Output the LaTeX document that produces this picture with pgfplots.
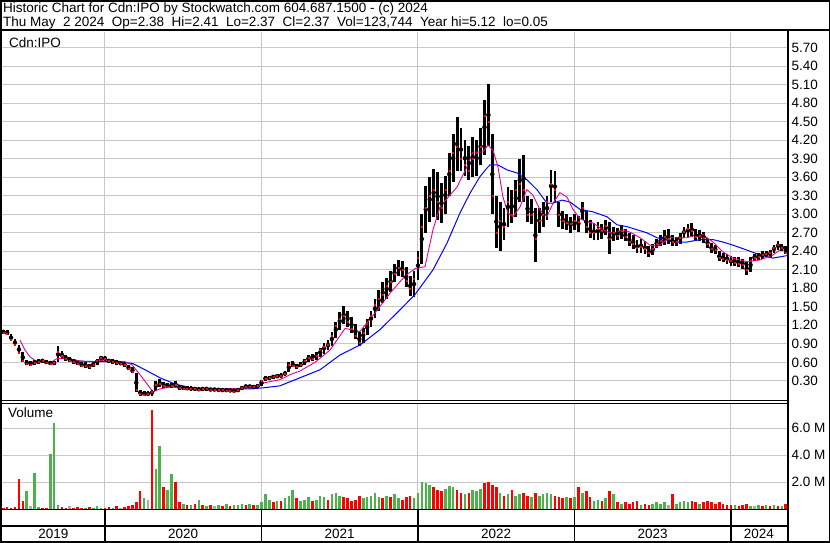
\documentclass[border=0pt]{standalone}
\usepackage{fontspec}
\setmainfont{Liberation Sans}
\usepackage{pgfplots}
\pgfplotsset{compat=1.18}
\usepackage{pgfplotstable}

\definecolor{gridgray}{RGB}{200,200,200}
\definecolor{vgreen}{RGB}{76,178,76}
\definecolor{vgray}{RGB}{170,170,170}
\newcommand\sw{\fontsize{13.5}{15}\selectfont}

% weekly-ish bars: x(year) high low close volume(M) colour(1 up, 2 down, 0 flat)
\pgfplotstableread{
x hi lo cl vol c
2019.350 1.13 1.06 1.08 0.10 2
2019.375 1.12 1.04 1.06 0.15 2
2019.400 1.06 0.94 0.96 0.10 2
2019.425 0.98 0.86 0.88 0.12 2
2019.450 0.88 0.74 0.76 2.20 2
2019.475 0.76 0.60 0.62 0.60 2
2019.500 0.64 0.55 0.58 1.30 1
2019.525 0.62 0.54 0.57 0.20 0
2019.550 0.64 0.56 0.60 2.70 1
2019.575 0.65 0.58 0.61 0.15 1
2019.600 0.66 0.59 0.62 0.10 2
2019.625 0.64 0.57 0.60 0.10 2
2019.650 0.63 0.55 0.58 4.10 1
2019.675 0.62 0.56 0.60 6.40 1
2019.700 0.86 0.60 0.78 0.30 1
2019.725 0.78 0.66 0.70 0.15 2
2019.750 0.72 0.62 0.66 0.10 2
2019.775 0.68 0.60 0.63 0.20 0
2019.800 0.66 0.58 0.61 0.10 2
2019.825 0.63 0.55 0.58 0.15 2
2019.850 0.61 0.52 0.55 0.10 2
2019.875 0.60 0.51 0.54 0.10 1
2019.900 0.58 0.50 0.53 0.15 2
2019.925 0.60 0.52 0.56 0.10 1
2019.950 0.66 0.56 0.62 0.20 1
2019.975 0.71 0.63 0.67 0.10 1
2020.000 0.70 0.63 0.66 0.10 2
2020.025 0.66 0.59 0.62 0.12 2
2020.050 0.65 0.58 0.61 0.10 1
2020.075 0.64 0.56 0.59 0.20 2
2020.100 0.62 0.55 0.58 0.10 0
2020.125 0.60 0.53 0.56 0.15 2
2020.150 0.56 0.47 0.50 0.20 2
2020.175 0.52 0.42 0.45 0.30 2
2020.200 0.42 0.12 0.16 0.50 2
2020.225 0.16 0.06 0.09 1.30 2
2020.250 0.14 0.05 0.08 0.80 1
2020.275 0.13 0.05 0.09 0.70 0
2020.300 0.16 0.06 0.12 7.30 2
2020.325 0.30 0.14 0.24 3.00 1
2020.350 0.33 0.20 0.25 4.70 1
2020.375 0.28 0.19 0.22 1.60 2
2020.400 0.26 0.18 0.21 1.40 1
2020.425 0.26 0.18 0.22 2.60 1
2020.450 0.29 0.20 0.24 2.00 2
2020.475 0.24 0.16 0.19 0.50 2
2020.500 0.22 0.15 0.18 0.40 1
2020.525 0.21 0.15 0.18 0.30 2
2020.550 0.21 0.14 0.17 0.30 1
2020.575 0.20 0.14 0.17 0.40 2
2020.600 0.19 0.14 0.16 0.70 1
2020.625 0.20 0.14 0.17 0.30 2
2020.650 0.20 0.14 0.17 0.20 1
2020.675 0.19 0.13 0.16 0.30 2
2020.700 0.19 0.13 0.16 0.20 0
2020.725 0.18 0.13 0.15 0.30 1
2020.750 0.18 0.12 0.15 0.20 2
2020.775 0.18 0.12 0.14 0.40 1
2020.800 0.17 0.12 0.14 0.20 2
2020.825 0.17 0.11 0.13 0.30 1
2020.850 0.18 0.12 0.15 0.30 1
2020.875 0.22 0.15 0.19 0.40 1
2020.900 0.24 0.18 0.21 0.30 2
2020.925 0.24 0.18 0.21 0.40 1
2020.950 0.23 0.17 0.20 0.30 2
2020.975 0.25 0.18 0.22 0.30 1
2021.000 0.32 0.22 0.30 0.50 1
2021.025 0.38 0.30 0.34 1.10 1
2021.050 0.38 0.31 0.35 0.70 1
2021.075 0.40 0.33 0.37 0.50 2
2021.100 0.41 0.34 0.38 0.60 1
2021.125 0.42 0.35 0.39 0.60 2
2021.150 0.46 0.38 0.42 0.80 1
2021.175 0.60 0.44 0.56 1.00 1
2021.200 0.62 0.52 0.55 1.40 1
2021.225 0.58 0.50 0.53 0.80 2
2021.250 0.60 0.52 0.56 0.60 1
2021.275 0.66 0.55 0.62 0.70 1
2021.300 0.72 0.60 0.68 0.90 1
2021.325 0.74 0.62 0.66 0.60 2
2021.350 0.76 0.64 0.70 0.70 1
2021.375 0.84 0.68 0.80 1.00 1
2021.400 0.92 0.74 0.86 0.90 1
2021.425 0.96 0.80 0.88 0.70 2
2021.450 1.10 0.86 1.04 1.10 1
2021.475 1.26 1.00 1.20 1.20 1
2021.500 1.42 1.12 1.30 1.00 1
2021.525 1.52 1.22 1.36 0.90 2
2021.550 1.44 1.18 1.26 0.80 2
2021.575 1.34 1.08 1.14 0.60 2
2021.600 1.22 0.98 1.04 0.70 2
2021.625 1.10 0.86 0.92 1.00 2
2021.650 1.16 0.92 1.08 0.80 1
2021.675 1.30 1.04 1.22 0.90 1
2021.700 1.44 1.18 1.36 1.00 1
2021.725 1.62 1.32 1.54 1.20 1
2021.750 1.78 1.44 1.64 0.90 1
2021.775 1.90 1.56 1.70 0.80 2
2021.800 1.96 1.62 1.84 1.00 1
2021.825 2.08 1.74 1.90 0.90 2
2021.850 2.20 1.90 2.04 1.10 1
2021.875 2.26 2.00 2.14 0.80 1
2021.900 2.24 1.98 2.10 0.70 2
2021.925 2.14 1.82 1.92 0.90 2
2021.950 2.00 1.68 1.80 1.00 2
2021.975 2.08 1.66 1.96 0.80 1
2022.000 2.40 1.94 2.30 1.20 1
2022.025 3.00 2.20 2.80 2.00 1
2022.050 3.46 2.70 3.10 1.90 1
2022.075 3.60 2.88 3.30 1.80 1
2022.100 3.74 2.96 3.40 1.60 2
2022.125 3.68 2.90 3.20 1.40 2
2022.150 3.50 2.86 3.10 1.30 2
2022.175 3.62 3.00 3.40 1.50 1
2022.200 4.00 3.30 3.70 1.70 1
2022.225 4.30 3.52 4.00 1.60 1
2022.250 4.58 3.70 4.10 1.40 2
2022.275 4.40 3.70 3.90 1.20 2
2022.300 4.20 3.62 3.80 1.10 1
2022.325 4.10 3.56 3.70 1.20 2
2022.350 4.26 3.60 3.90 1.40 1
2022.375 4.20 3.62 4.00 1.30 1
2022.400 4.40 3.80 4.10 1.50 1
2022.425 4.86 3.96 4.60 1.90 2
2022.450 5.12 4.10 4.50 2.00 2
2022.475 4.30 3.00 3.30 1.80 2
2022.500 3.30 2.46 2.70 1.60 2
2022.525 3.20 2.40 2.90 1.20 1
2022.550 3.10 2.58 2.80 1.00 2
2022.575 3.44 2.80 3.20 1.10 1
2022.600 3.40 2.86 3.00 1.40 2
2022.625 3.56 2.96 3.40 1.00 1
2022.650 3.90 3.20 3.50 1.10 1
2022.675 3.96 3.20 3.40 1.20 2
2022.700 3.30 2.88 3.00 1.00 2
2022.725 3.24 2.84 3.00 0.90 1
2022.750 3.10 2.22 2.60 1.20 2
2022.775 3.10 2.70 2.90 1.00 1
2022.800 3.20 2.80 3.00 1.10 1
2022.825 3.30 2.90 3.20 1.20 1
2022.850 3.72 3.20 3.50 1.10 1
2022.875 3.70 3.20 3.40 1.00 2
2022.900 3.20 2.80 3.00 0.90 2
2022.925 3.06 2.76 2.90 0.80 2
2022.950 3.00 2.74 2.86 0.90 1
2022.975 2.96 2.70 2.84 0.80 2
2023.000 3.00 2.74 2.90 0.90 1
2023.025 2.98 2.72 2.88 1.60 2
2023.050 3.20 2.90 3.10 1.20 1
2023.075 3.06 2.70 2.80 1.30 2
2023.100 2.90 2.62 2.70 0.90 2
2023.125 2.86 2.58 2.70 0.60 1
2023.150 2.88 2.58 2.76 0.70 1
2023.175 2.84 2.60 2.74 0.60 2
2023.200 2.90 2.66 2.82 0.80 1
2023.225 2.88 2.36 2.60 1.30 2
2023.250 2.80 2.56 2.70 1.10 1
2023.275 2.78 2.58 2.66 0.50 2
2023.300 2.82 2.60 2.74 0.40 1
2023.325 2.76 2.56 2.64 0.50 2
2023.350 2.70 2.48 2.56 0.40 2
2023.375 2.66 2.44 2.52 0.50 2
2023.400 2.58 2.38 2.46 0.60 2
2023.425 2.60 2.38 2.48 0.30 1
2023.450 2.56 2.36 2.44 0.40 2
2023.475 2.48 2.30 2.38 0.30 2
2023.500 2.52 2.34 2.44 0.40 1
2023.525 2.60 2.46 2.52 0.50 1
2023.550 2.66 2.48 2.58 0.40 1
2023.575 2.74 2.50 2.64 0.50 1
2023.600 2.76 2.52 2.60 0.30 0
2023.625 2.66 2.48 2.56 1.10 2
2023.650 2.64 2.48 2.56 0.40 1
2023.675 2.70 2.52 2.62 0.50 1
2023.700 2.80 2.62 2.72 0.60 1
2023.725 2.84 2.64 2.76 0.50 1
2023.750 2.86 2.64 2.74 0.60 2
2023.775 2.76 2.56 2.64 0.50 2
2023.800 2.74 2.56 2.66 0.40 1
2023.825 2.72 2.54 2.62 0.50 2
2023.850 2.62 2.46 2.52 0.60 2
2023.875 2.54 2.38 2.44 0.50 2
2023.900 2.50 2.36 2.42 0.40 2
2023.925 2.40 2.24 2.30 0.50 2
2023.950 2.38 2.22 2.28 0.40 2
2023.975 2.36 2.20 2.26 0.30 2
2024.000 2.32 2.16 2.24 0.30 2
2024.025 2.30 2.16 2.22 0.30 1
2024.050 2.30 2.14 2.20 0.20 2
2024.075 2.28 2.12 2.18 0.30 2
2024.100 2.22 2.02 2.10 0.40 2
2024.125 2.30 2.06 2.24 0.20 1
2024.150 2.36 2.24 2.30 0.20 0
2024.175 2.38 2.26 2.32 0.30 1
2024.200 2.40 2.28 2.34 0.20 2
2024.225 2.40 2.30 2.36 0.30 1
2024.250 2.42 2.30 2.38 0.20 2
2024.275 2.50 2.38 2.46 0.30 1
2024.300 2.56 2.42 2.50 0.20 2
2024.325 2.52 2.40 2.46 0.20 1
2024.350 2.48 2.35 2.37 0.40 2
}\stock

% short moving average (magenta)
\pgfplotstableread{
x ma
2019.457 0.96
2019.489 0.80
2019.521 0.69
2019.565 0.61
2019.617 0.61
2019.649 0.59
2019.693 0.66
2019.744 0.67
2019.808 0.64
2019.872 0.61
2019.936 0.61
2020.000 0.64
2020.064 0.62
2020.128 0.61
2020.173 0.56
2020.224 0.40
2020.275 0.23
2020.307 0.12
2020.351 0.17
2020.415 0.20
2020.479 0.19
2020.607 0.17
2020.735 0.17
2020.863 0.17
2020.958 0.22
2021.022 0.27
2021.118 0.32
2021.182 0.40
2021.246 0.46
2021.342 0.60
2021.438 0.80
2021.534 1.15
2021.629 1.10
2021.725 1.40
2021.821 1.72
2021.917 2.00
2021.981 2.12
2022.045 2.15
2022.096 2.75
2022.141 3.12
2022.204 3.31
2022.249 3.44
2022.313 3.77
2022.351 4.01
2022.415 4.01
2022.447 4.12
2022.479 4.04
2022.511 3.77
2022.543 3.28
2022.575 3.02
2022.607 2.96
2022.652 3.12
2022.696 3.40
2022.735 3.31
2022.780 3.07
2022.824 2.96
2022.863 3.18
2022.907 3.35
2022.952 3.28
2022.990 3.08
2023.035 2.93
2023.080 2.88
2023.118 2.86
2023.182 2.75
2023.227 2.70
2023.272 2.71
2023.310 2.75
2023.355 2.71
2023.419 2.62
2023.482 2.50
2023.527 2.48
2023.565 2.54
2023.610 2.62
2023.719 2.62
2023.783 2.67
2023.821 2.67
2023.885 2.55
2023.949 2.39
2024.013 2.29
2024.102 2.23
2024.185 2.26
2024.268 2.34
2024.332 2.46
2024.358 2.39
}\mafast

% long moving average (blue)
\pgfplotstableread{
x ma
2019.693 0.75
2019.744 0.66
2019.840 0.62
2019.968 0.61
2020.096 0.61
2020.179 0.58
2020.256 0.48
2020.351 0.35
2020.447 0.25
2020.543 0.19
2020.671 0.17
2020.799 0.17
2020.927 0.17
2021.022 0.19
2021.118 0.22
2021.246 0.35
2021.374 0.48
2021.502 0.72
2021.629 0.88
2021.757 1.13
2021.885 1.45
2021.981 1.70
2022.096 2.10
2022.185 2.53
2022.268 3.02
2022.332 3.34
2022.396 3.61
2022.441 3.75
2022.460 3.80
2022.511 3.80
2022.569 3.72
2022.633 3.67
2022.696 3.56
2022.760 3.40
2022.824 3.18
2022.863 3.18
2022.920 3.23
2022.971 3.20
2023.035 3.08
2023.118 3.04
2023.208 2.96
2023.272 2.83
2023.335 2.80
2023.399 2.75
2023.463 2.70
2023.527 2.62
2023.591 2.59
2023.655 2.55
2023.719 2.55
2023.802 2.59
2023.885 2.59
2023.949 2.55
2024.013 2.50
2024.102 2.42
2024.185 2.34
2024.268 2.29
2024.358 2.33
}\maslow

\begin{document}
\begin{tikzpicture}
\fill[white] (0pt,0pt) rectangle (830pt,543pt);

\pgfplotsset{swaxis/.style={
  scale only axis, anchor=south west,
  xmin=2019.342, xmax=2024.358,
  xtick={2020,2021,2022,2023,2024}, xticklabels={},
  major tick length=0pt,
  grid=major, major grid style={draw=gridgray, line width=1pt},
  axis line style={draw=none},
  yticklabel pos=right,
  yticklabel style={font=\sw, anchor=west, xshift=1pt},
  /pgf/number format/assume math mode=true,
}}

% price panel
\begin{axis}[swaxis, at={(2pt,143pt)}, width=785pt, height=368pt,
  ymin=-0.01, ymax=5.955,
  ytick={0.3,0.6,0.9,1.2,1.5,1.8,2.1,2.4,2.7,3.0,3.3,3.6,3.9,4.2,4.5,4.8,5.1,5.4,5.7},
  yticklabel style={/pgf/number format/fixed, /pgf/number format/fixed zerofill, /pgf/number format/precision=2},
]
\addplot[only marks, mark=none, black,
  error bars/.cd, y dir=both, y explicit, error mark=none,
  error bar style={draw=black, line width=2.8pt}]
  table[x=x, y expr={(\thisrow{hi}+\thisrow{lo})/2}, y error expr={(\thisrow{hi}-\thisrow{lo})/2}] {\stock};
\addplot[only marks, mark=square*, mark size=0.5pt, red] table[x=x, y=cl] {\stock};
\addplot[blue, line width=1pt] table[x=x, y=ma] {\maslow};
\addplot[magenta, line width=0.9pt] table[x=x, y=ma] {\mafast};
\end{axis}

% volume panel
\begin{axis}[swaxis, at={(2pt,34pt)}, width=785pt, height=105pt,
  ymin=0, ymax=7.78, ytick={2,4,6}, yticklabels={2.0 M,4.0 M,6.0 M},
  clip=false,
]
\addplot[ycomb, vgreen, line width=2.6pt, restrict expr to domain={\thisrow{c}}{1:1}] table[x=x, y=vol] {\stock};
\addplot[ycomb, red, line width=2.6pt, restrict expr to domain={\thisrow{c}}{2:2}] table[x=x, y=vol] {\stock};
\addplot[ycomb, vgray, line width=2.6pt, restrict expr to domain={\thisrow{c}}{0:0}] table[x=x, y=vol] {\stock};
\pgfplotsinvokeforeach{2020,2021,2022,2023,2024}{
  \draw[line width=1.5pt] (axis cs:#1,0) -- ++(0pt,-33pt);
}
\node[font=\sw] at (axis cs:2019.671,0) [yshift=-25pt] {2019};
\node[font=\sw] at (axis cs:2020.5,0) [yshift=-25pt] {2020};
\node[font=\sw] at (axis cs:2021.5,0) [yshift=-25pt] {2021};
\node[font=\sw] at (axis cs:2022.5,0) [yshift=-25pt] {2022};
\node[font=\sw] at (axis cs:2023.5,0) [yshift=-25pt] {2023};
\node[font=\sw] at (axis cs:2024.179,0) [yshift=-25pt] {2024};
\end{axis}

% frame
\draw[line width=2pt] (1pt,0pt) -- (1pt,543pt);
\draw[line width=2pt] (0pt,542pt) -- (830pt,542pt);
\draw[line width=1pt] (829.5pt,0pt) -- (829.5pt,543pt);
\draw[line width=2pt] (0pt,512.5pt) -- (830pt,512.5pt);
\draw[line width=2pt] (788pt,0pt) -- (788pt,512.5pt);
\draw[line width=1pt] (0pt,142.3pt) -- (788pt,142.3pt);
\draw[line width=1pt] (0pt,139.7pt) -- (788pt,139.7pt);
\draw[line width=1.5pt] (0pt,33.5pt) -- (788pt,33.5pt);
\draw[line width=2pt] (0pt,16.5pt) -- (788pt,16.5pt);
\draw[line width=2pt] (0pt,1pt) -- (830pt,1pt);

% header and panel titles
\node[anchor=base west, font=\sw, inner sep=0pt] at (3pt,530.5pt) {Historic Chart for Cdn:IPO by Stockwatch.com 604.687.1500 - (c) 2024};
\node[anchor=base west, font=\sw, inner sep=0pt] at (3pt,516.5pt) {Thu May~~2 2024~~Op=2.38~~Hi=2.41~~Lo=2.37~~Cl=2.37~~Vol=123,744~~Year hi=5.12~~lo=0.05};
\node[anchor=base west, font=\sw, inner sep=0pt] at (9pt,495pt) {Cdn:IPO};
\node[anchor=base west, font=\sw, inner sep=0pt] at (8pt,125pt) {Volume};

\pgfresetboundingbox
\path (0pt,0pt) rectangle (830pt,543pt);
\end{tikzpicture}
\end{document}
